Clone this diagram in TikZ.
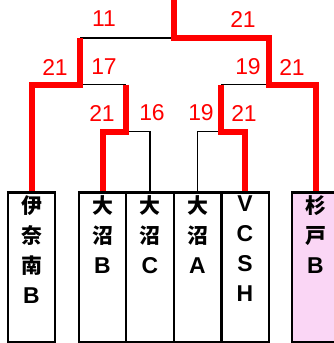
\documentclass[tikz,border=0pt]{standalone}
\usepackage{fontspec}
\newfontfamily\cjk{Noto Sans CJK JP}
\newfontfamily\scorefont{Liberation Sans}
\newfontfamily\latinfont{Liberation Sans}
\newcommand{\lat}[1]{{\latinfont\bfseries\fontsize{23}{30}\selectfont #1}}
\definecolor{pinkfill}{RGB}{250,214,245}
\begin{document}
\begin{tikzpicture}[x=1bp,y=-1bp,
  redline/.style={draw=red, line width=6bp},
  blackline/.style={draw=black, line width=1.2bp},
  team/.style={draw=black, line width=2bp, fill=white, minimum width=47bp, minimum height=149bp, anchor=north, inner sep=0pt},
  score/.style={text=red, font=\scorefont\fontsize{23}{23}\selectfont},
  teamname/.style={font=\cjk\bfseries\fontsize{21}{30}\selectfont, align=center, anchor=north, inner sep=0pt}]
\useasboundingbox (0,0) rectangle (334,343);
% coordinates
\coordinate (top) at (173.5,0);
\coordinate (f) at (173.5,38);
\coordinate (sL) at (80,38);
\coordinate (sR) at (268.5,38);
\coordinate (qL) at (80,84.5);
\coordinate (qR) at (268.5,84.5);
\coordinate (qLi) at (126,84.5);
\coordinate (qRi) at (221,84.5);
\coordinate (rL) at (126,131.5);
\coordinate (rR) at (221,131.5);
% team boxes
\node[team] (b1) at (31.5,192) {};
\node[team] (b2) at (102.5,192) {};
\node[team] (b3) at (150,192) {};
\node[team] (b4) at (197.5,192) {};
\node[team] (b5) at (245,192) {};
\node[team, fill=pinkfill] (b6) at (315.5,192) {};
% black lines
\draw[blackline] (sL) -- (f);
\draw[blackline] (qL) -- (qLi);
\draw[blackline] (qR) -- (qRi);
\draw[blackline] (rL) -| (b3.north);
\draw[blackline] (rR) -| (b4.north);
% red lines
\draw[redline] (top) -- (f) -- (sR) -- (qR) -| (b6.north);
\draw[redline] (sL) -- (qL) -| (b1.north);
\draw[redline] (qLi) -- (rL) -| (b2.north);
\draw[redline] (qRi) -- (rR) -| (b5.north);
% redraw box borders over red ends
\foreach \b in {b1,b2,b3,b4,b5,b6} \draw[line width=2bp] (\b.north west) -- (\b.north east);
% team names
\node[teamname] (t1) at (31.5,195.5) {伊\\奈\\南\\\lat{B}};
\node[teamname] (t2) at (102.5,195.5) {大\\沼\\\lat{B}};
\node[teamname] (t3) at (150,195.5) {大\\沼\\\lat{C}};
\node[teamname] (t4) at (197.5,195.5) {大\\沼\\\lat{A}};
\node[teamname] (t5) at (245,195.5) {\lat{V}\\\lat{C}\\\lat{S}\\\lat{H}};
\node[teamname] (t6) at (315.5,195.5) {杉\\戸\\\lat{B}};
% scores
\node[score] (s1) at (104,19) {11};
\node[score] (s2) at (243,19) {21};
\node[score] (s3) at (55,67) {21};
\node[score] (s4) at (104,67) {17};
\node[score] (s5) at (248,67) {19};
\node[score] (s6) at (292,67) {21};
\node[score] (s7) at (102,113) {21};
\node[score] (s8) at (152,113) {16};
\node[score] (s9) at (201,113) {19};
\node[score] (s10) at (244,113) {21};
\end{tikzpicture}
\end{document}
